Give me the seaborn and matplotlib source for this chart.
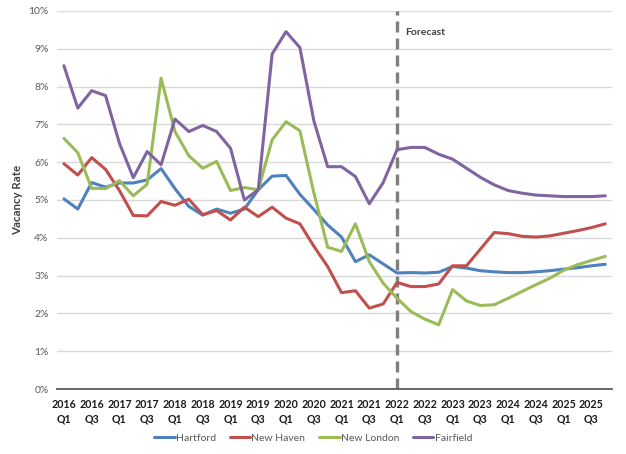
import numpy as np
import pandas as pd
import matplotlib
matplotlib.use("Agg")
import matplotlib.pyplot as plt
import seaborn as sns

# quarterly vacancy rates (%), 2016 Q1 .. 2025 Q4 (forecast from 2022 Q1)
years = [str(y) for y in range(2016, 2026)]
quarters = ["Q1", "Q2", "Q3", "Q4"]
periods = [f"{y} {q}" for y in years for q in quarters]

hartford = [5.03, 4.76, 5.46, 5.34, 5.45, 5.45, 5.53, 5.83, 5.30, 4.83,
            4.60, 4.76, 4.65, 4.76, 5.27, 5.63, 5.65, 5.15, 4.75, 4.34,
            4.02, 3.37, 3.55, 3.31, 3.07, 3.08, 3.07, 3.09, 3.24, 3.20,
            3.13, 3.10, 3.08, 3.08, 3.10, 3.13, 3.17, 3.21, 3.26, 3.30]
new_haven = [5.96, 5.66, 6.12, 5.81, 5.25, 4.59, 4.58, 4.96, 4.86, 5.02,
             4.61, 4.72, 4.47, 4.81, 4.56, 4.81, 4.52, 4.37, 3.78, 3.24,
             2.55, 2.60, 2.14, 2.25, 2.82, 2.71, 2.71, 2.78, 3.26, 3.26,
             3.70, 4.14, 4.11, 4.04, 4.02, 4.05, 4.12, 4.19, 4.27, 4.37]
new_london = [6.63, 6.25, 5.31, 5.30, 5.51, 5.11, 5.42, 8.22, 6.81, 6.17,
              5.84, 6.02, 5.25, 5.33, 5.27, 6.59, 7.07, 6.83, 5.20, 3.75,
              3.64, 4.37, 3.37, 2.80, 2.40, 2.05, 1.85, 1.70, 2.63, 2.33,
              2.21, 2.23, 2.40, 2.58, 2.76, 2.93, 3.14, 3.29, 3.40, 3.51]
fairfield = [8.55, 7.43, 7.89, 7.76, 6.50, 5.59, 6.28, 5.93, 7.14, 6.81,
             6.97, 6.81, 6.37, 5.00, 5.27, 8.86, 9.45, 9.03, 7.10, 5.88,
             5.88, 5.62, 4.90, 5.46, 6.33, 6.39, 6.39, 6.21, 6.08, 5.84,
             5.60, 5.40, 5.25, 5.18, 5.13, 5.11, 5.09, 5.09, 5.09, 5.11]

cities = ["Hartford", "New Haven", "New London", "Fairfield"]
colors = ["#4F81BD", "#C0504D", "#9BBB59", "#8064A2"]
forecast_start = "2022 Q1"

df = pd.DataFrame({"Hartford": hartford, "New Haven": new_haven,
                   "New London": new_london, "Fairfield": fairfield})
df["idx"] = np.arange(len(periods))
long_df = df.melt(id_vars="idx", var_name="City", value_name="Rate")

sns.set_style("white")
plt.rcParams["font.family"] = ["Lato", "DejaVu Sans"]

fig = plt.figure(figsize=(6.26, 4.54), dpi=100)
ax = fig.add_axes([0.091, 0.143, 0.887, 0.833])

sns.lineplot(data=long_df, x="idx", y="Rate", hue="City", hue_order=cities,
             palette=colors, linewidth=2.2, ax=ax, legend=False)

# forecast divider
fx = periods.index(forecast_start)
ax.axvline(fx, color="#7F7F7F", linewidth=2.4, linestyle=(0, (3.3, 1.8)), zorder=1)
ax.text(fx + 0.55, 9.42, "Forecast", fontsize=7.5, fontweight="bold",
        color="#404040", va="center", ha="left")

ax.set_xlim(-0.5, len(periods) - 0.5)
ax.set_ylim(0, 10)
ax.set_yticks(np.arange(0, 11, 1))
ax.set_yticklabels([f"{v}%" for v in range(0, 11)], fontsize=7.5, color="#595959")
xt = np.arange(0, len(periods), 2)
ax.set_xticks(xt)
ax.set_xticklabels([periods[i].replace(" ", "\n") for i in xt],
                   fontsize=7.7, fontweight="bold", color="#1a1a1a", linespacing=1.4)
ax.tick_params(axis="x", length=0, pad=7)
ax.tick_params(axis="y", length=0, pad=6)

ax.grid(axis="y", color="#D9D9D9", linewidth=1)
ax.set_axisbelow(True)
for s in ["top", "right", "left"]:
    ax.spines[s].set_visible(False)
ax.spines["bottom"].set_color("#595959")
ax.spines["bottom"].set_linewidth(1.3)

ax.set_xlabel("")
ax.set_ylabel("Vacancy Rate", fontsize=8.3, fontweight="bold", color="#404040", labelpad=4)

handles = [plt.Line2D([], [], color=c, linewidth=2.2) for c in colors]
leg = fig.legend(handles, cities, loc="center", bbox_to_anchor=(0.5, 0.035), ncol=4,
                 frameon=False, fontsize=7.5, handlelength=2.0, handletextpad=0.1,
                 columnspacing=1.3)
for t in leg.get_texts():
    t.set_color("#595959")

fig.savefig("out.png", dpi=100)
